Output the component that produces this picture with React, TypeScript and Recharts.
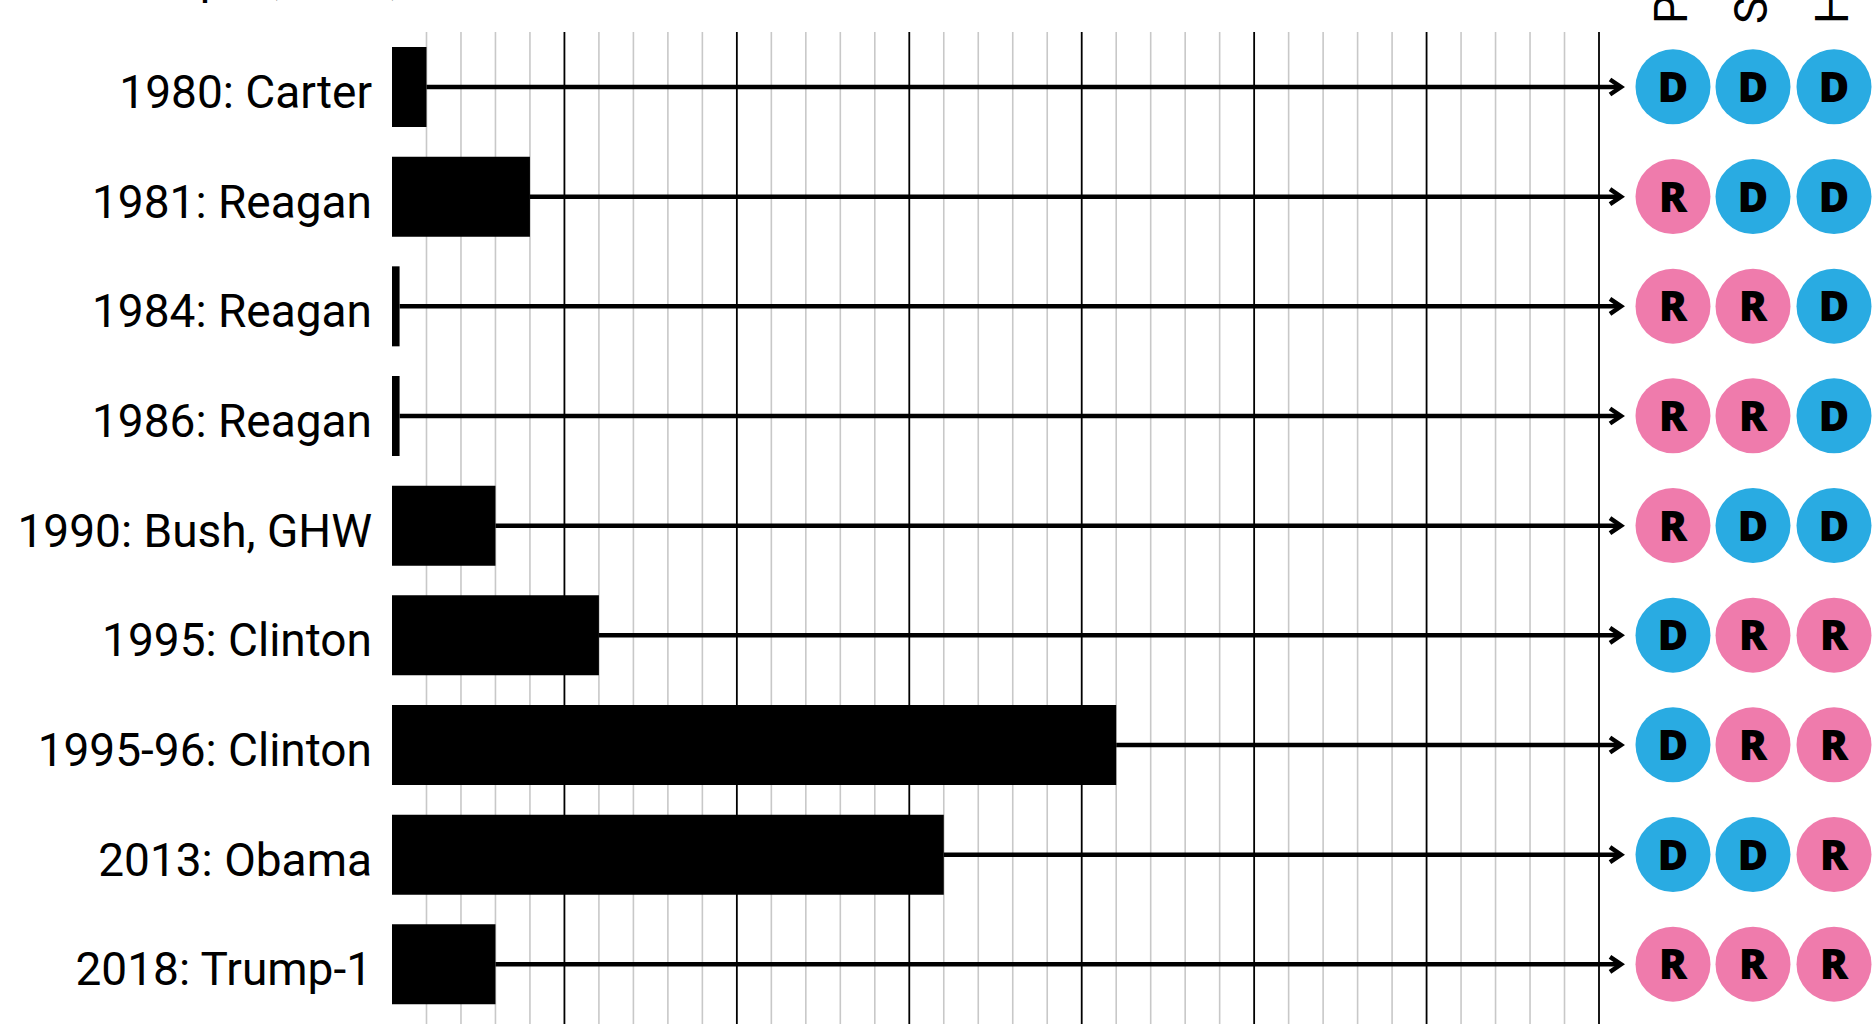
import { Bar, BarChart, CartesianGrid, Label, XAxis, YAxis } from "recharts";

const shutdowns = [
  "1980: Carter",
  "1981: Reagan",
  "1984: Reagan",
  "1986: Reagan",
  "1990: Bush, GHW",
  "1995: Clinton",
  "1995-96: Clinton",
  "2013: Obama",
  "2018: Trump-1",
];
const days = [1, 4, 0.22, 0.22, 3, 6, 21, 16, 3];
const president = ["D", "R", "R", "R", "R", "D", "D", "D", "R"];
const senate = ["D", "D", "R", "R", "D", "R", "R", "D", "R"];
const house = ["D", "D", "D", "D", "D", "R", "R", "R", "R"];
const controlHeaders = ["President", "Senate", "House"];
const minorTicks = [
  1, 2, 3, 4, 6, 7, 8, 9, 11, 12, 13, 14, 16, 17, 18, 19, 21, 22, 23, 24, 26, 27, 28, 29, 31, 32, 33, 34,
];
const majorTicks = [5, 10, 15, 20, 25, 30, 35];
const AXIS_MAX = 35;

const PARTY_COLOR: Record<string, string> = { D: "#29abe2", R: "#ef7bac" };
// circle centres, measured from the left edge of the right-hand axis
const COLUMN_OFFSETS = [74, 154, 235];

const data = shutdowns.map((name, i) => ({
  name,
  days: days[i],
  rest: AXIS_MAX - days[i],
  parties: [president[i], senate[i], house[i]],
}));

const LABEL_FONT = "Roboto, 'Open Sans', sans-serif";

// map day values to pixel x through the axis scale (falls back to the plot offset)
const gridAt = (values: number[]) => (props: any) => {
  const { xAxis, offset } = props;
  const scale = xAxis?.scale;
  return values.map((v) => {
    if (typeof scale === "function") return scale(v);
    if (scale && typeof scale.map === "function") return scale.map(v);
    return offset.left + (v / AXIS_MAX) * offset.width;
  });
};

const NameTick = (props: { x?: number; y?: number; payload?: { value: string } }) => {
  const { x = 0, y = 0, payload } = props;
  return (
    <text x={x} y={y + 21} textAnchor="end" fontFamily={LABEL_FONT} fontSize={46} fill="#000">
      {payload?.value}
    </text>
  );
};

const PartyTick = (props: { x?: number; y?: number; index?: number }) => {
  const { x = 0, y = 0, index = 0 } = props;
  const row = data[index];
  if (!row) return null;
  return (
    <g>
      {row.parties.map((p, j) => (
        <g key={j}>
          <circle cx={x + COLUMN_OFFSETS[j]} cy={y} r={37.5} fill={PARTY_COLOR[p]} />
          <text
            x={x + COLUMN_OFFSETS[j]}
            y={y + 15}
            textAnchor="middle"
            fontFamily="'Open Sans', sans-serif"
            fontWeight={800}
            fontSize={42}
            fill="#000"
          >
            {p}
          </text>
        </g>
      ))}
    </g>
  );
};

// remainder of the row: a line running on past the last gridline into an arrowhead
const ArrowShape = (props: { x?: number; y?: number; width?: number; height?: number }) => {
  const { x = 0, y = 0, width = 0, height = 0 } = props;
  const cy = y + height / 2;
  const tip = x + width + 22;
  return (
    <g>
      <line x1={x} x2={tip - 2} y1={cy} y2={cy} stroke="#000" strokeWidth={4.5} />
      <polyline
        points={`${tip - 11},${cy - 7.5} ${tip},${cy} ${tip - 11},${cy + 7.5}`}
        fill="none"
        stroke="#000"
        strokeWidth={4.5}
      />
    </g>
  );
};

const renderHeaders = (props: { viewBox?: { x: number; y: number } }) => {
  const { x = 0, y = 0 } = props.viewBox ?? {};
  return (
    <g>
      {controlHeaders.map((h, j) => {
        const tx = x + COLUMN_OFFSETS[j] + 14;
        const ty = y - 8;
        return (
          <text
            key={h}
            x={tx}
            y={ty}
            transform={`rotate(-90 ${tx} ${ty})`}
            fontFamily={LABEL_FONT}
            fontSize={46}
            fill="#000"
          >
            {h}
          </text>
        );
      })}
    </g>
  );
};

const renderSubtitle = () => (
  <text x={150} y={-6} fontFamily={LABEL_FONT} fontSize={46} fill="#000">
    Lapse, in all, and control
  </text>
);

export default function App() {
  return (
    <div style={{ position: "fixed", left: 0, top: 0, background: "#fff" }}>
      <BarChart
        width={1876}
        height={1024}
        data={data}
        layout="vertical"
        barSize={80}
        margin={{ top: 32, right: 0, bottom: 5, left: 0 }}
      >
        <XAxis type="number" domain={[0, AXIS_MAX]} hide />
        <YAxis
          yAxisId="left"
          type="category"
          dataKey="name"
          width={392}
          axisLine={false}
          tickLine={false}
          tickSize={0}
          tickMargin={20}
          tick={<NameTick />}
          interval={0}
        >
          <Label content={renderSubtitle} />
        </YAxis>
        <YAxis
          yAxisId="right"
          orientation="right"
          type="category"
          dataKey="name"
          width={277}
          axisLine={false}
          tickLine={false}
          tickSize={0}
          tickMargin={0}
          tick={<PartyTick />}
          interval={0}
        >
          <Label content={renderHeaders} />
        </YAxis>
        <CartesianGrid
          yAxisId="left"
          horizontal={false}
          verticalCoordinatesGenerator={gridAt(minorTicks)}
          stroke="#c8c8c8"
          strokeWidth={1.6}
          y={32}
          height={1000}
        />
        <CartesianGrid
          yAxisId="left"
          horizontal={false}
          verticalCoordinatesGenerator={gridAt(majorTicks)}
          stroke="#000"
          strokeWidth={1.8}
          y={32}
          height={1000}
        />
        <Bar yAxisId="left" dataKey="days" stackId="a" fill="#000" isAnimationActive={false} />
        <Bar
          yAxisId="left"
          dataKey="rest"
          stackId="a"
          shape={<ArrowShape />}
          isAnimationActive={false}
        />
      </BarChart>
    </div>
  );
}
